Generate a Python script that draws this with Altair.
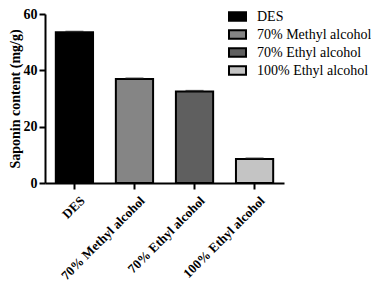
import altair as alt
import pandas as pd

categories = ["DES", "70% Methyl alcohol", "70% Ethyl alcohol", "100% Ethyl alcohol"]
values = [53.5, 36.9, 32.5, 8.5]
errors = [0.3, 0.3, 0.3, 0.3]
colors = ["#000000", "#858585", "#5f5f5f", "#c4c4c4"]

df = pd.DataFrame({"cat": categories, "val": values, "err": errors})
df["top"] = df["val"] + df["err"]

FONT = "Liberation Serif"

x = alt.X("cat:N", sort=categories, title=None,
          scale=alt.Scale(paddingInner=0.38, paddingOuter=0.18),
          axis=alt.Axis(labelAngle=-45, labelFont=FONT, labelFontWeight="bold",
                        labelFontSize=13, labelColor="black", domainColor="black",
                        domainWidth=2, tickColor="black", tickWidth=2, tickSize=6,
                        labelPadding=5, labelOffset=4))

bars = alt.Chart(df).mark_bar(stroke="black", strokeWidth=2).encode(
    x=x,
    y=alt.Y("val:Q", title="Saponin content (mg/g)",
            scale=alt.Scale(domain=[0, 60]),
            axis=alt.Axis(values=[0, 20, 40, 60], grid=False, labelFont=FONT,
                          labelFontWeight="bold", labelFontSize=14, labelColor="black",
                          titleFont=FONT, titleFontWeight="bold", titleFontSize=14,
                          titleColor="black", domainColor="black", domainWidth=2,
                          tickColor="black", tickWidth=2, tickSize=6, labelPadding=2,
                          titlePadding=1)),
    fill=alt.Fill("cat:N", sort=categories,
                  scale=alt.Scale(domain=categories, range=colors),
                  legend=alt.Legend(title=None, orient="none", legendX=183, legendY=-7,
                                    symbolType="M-1,-0.5L1,-0.5L1,0.5L-1,0.5Z",
                                    symbolSize=289, symbolStrokeColor="black",
                                    symbolStrokeWidth=2, labelFont=FONT,
                                    labelFontSize=14, labelColor="black",
                                    rowPadding=0, labelOffset=10)),
)

caps = alt.Chart(df).mark_tick(color="#222222", thickness=1.5, size=18).encode(
    x=alt.X("cat:N", sort=categories),
    y=alt.Y("top:Q"),
)

chart = alt.layer(bars, caps).properties(
    width=239, height=169,
    autosize=alt.AutoSizeParams(type="none"),
    padding={"left": 37, "top": 6, "right": 87, "bottom": 100},
).configure_view(stroke=None)

chart.save("out.html", embed_options={"renderer": "svg", "actions": False})
